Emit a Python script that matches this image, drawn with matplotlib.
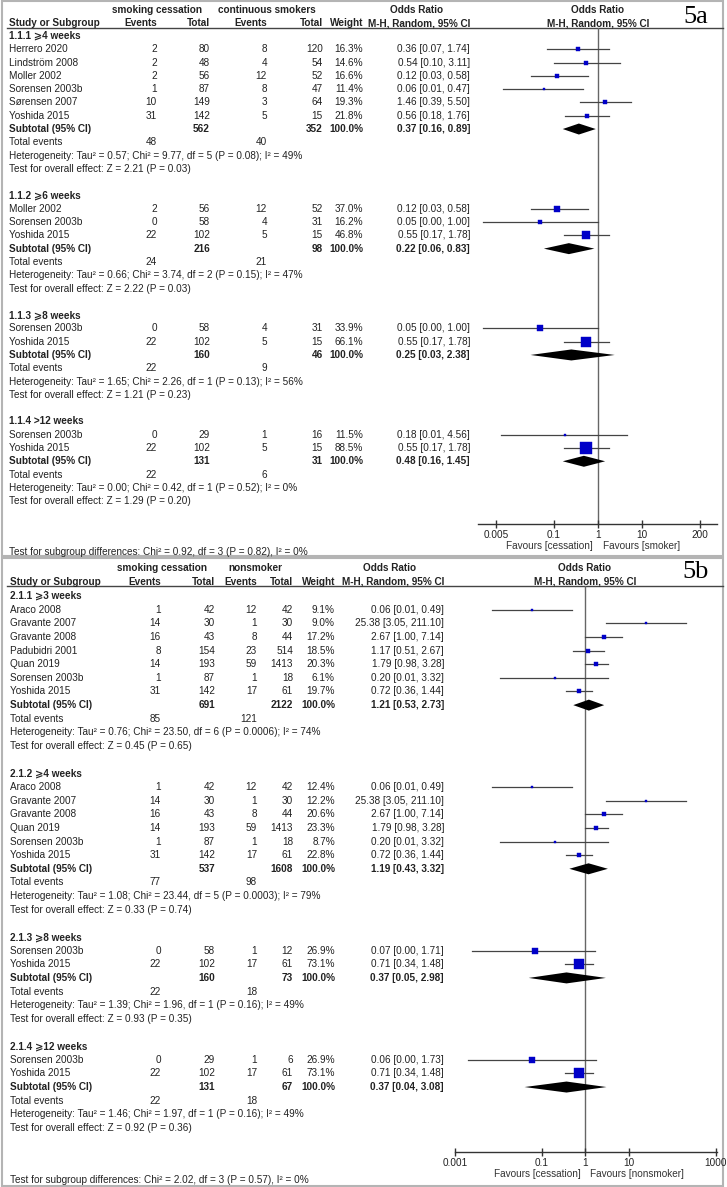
import matplotlib.pyplot as plt
from matplotlib.patches import Rectangle

plt.rcParams['font.family'] = ['Liberation Sans', 'DejaVu Sans']

# ---------------- 5a: smoking cessation vs continuous smokers ----------------
a_groups = ['1.1.1 ⩾4 weeks', '1.1.2 ⩾6 weeks', '1.1.3 ⩾8 weeks', '1.1.4 >12 weeks']
a_grp = [0, 0, 0, 0, 0, 0, 1, 1, 1, 2, 2, 3, 3]
a_study = ['Herrero 2020', 'Lindström 2008', 'Moller 2002', 'Sorensen 2003b', 'Sørensen 2007',
           'Yoshida 2015', 'Moller 2002', 'Sorensen 2003b', 'Yoshida 2015',
           'Sorensen 2003b', 'Yoshida 2015', 'Sorensen 2003b', 'Yoshida 2015']
a_ev1 = [2, 2, 2, 1, 10, 31, 2, 0, 22, 0, 22, 0, 22]
a_n1 = [80, 48, 56, 87, 149, 142, 56, 58, 102, 58, 102, 29, 102]
a_ev2 = [8, 4, 12, 8, 3, 5, 12, 4, 5, 4, 5, 1, 5]
a_n2 = [120, 54, 52, 47, 64, 15, 52, 31, 15, 31, 15, 16, 15]
a_wt = [16.3, 14.6, 16.6, 11.4, 19.3, 21.8, 37.0, 16.2, 46.8, 33.9, 66.1, 11.5, 88.5]
a_or = [0.36, 0.54, 0.12, 0.06, 1.46, 0.56, 0.12, 0.05, 0.55, 0.05, 0.55, 0.18, 0.55]
a_lo = [0.07, 0.10, 0.03, 0.007, 0.39, 0.18, 0.03, 0.0025, 0.17, 0.0025, 0.17, 0.0065, 0.17]
a_hi = [1.74, 3.11, 0.58, 0.47, 5.50, 1.76, 0.58, 1.00, 1.78, 1.00, 1.78, 4.56, 1.78]
a_sub_or = [0.37, 0.22, 0.25, 0.48]
a_sub_lo = [0.16, 0.06, 0.03, 0.16]
a_sub_hi = [0.89, 0.83, 2.38, 1.45]
a_het = ['Heterogeneity: Tau² = 0.57; Chi² = 9.77, df = 5 (P = 0.08); I² = 49%',
         'Heterogeneity: Tau² = 0.66; Chi² = 3.74, df = 2 (P = 0.15); I² = 47%',
         'Heterogeneity: Tau² = 1.65; Chi² = 2.26, df = 1 (P = 0.13); I² = 56%',
         'Heterogeneity: Tau² = 0.00; Chi² = 0.42, df = 1 (P = 0.52); I² = 0%']
a_eff = ['Test for overall effect: Z = 2.21 (P = 0.03)',
         'Test for overall effect: Z = 2.22 (P = 0.03)',
         'Test for overall effect: Z = 1.21 (P = 0.23)',
         'Test for overall effect: Z = 1.29 (P = 0.20)']
a_subdiff = 'Test for subgroup differences: Chi² = 0.92, df = 3 (P = 0.82), I² = 0%'
a_ticks = [0.005, 0.1, 1, 10, 200]
a_tick_labels = ['0.005', '0.1', '1', '10', '200']
a_fav = ['Favours [cessation]', 'Favours [smoker]']
a_arms = ['smoking cessation', 'continuous smokers']

# ---------------- 5b: smoking cessation vs nonsmokers ----------------
b_groups = ['2.1.1 ⩾3 weeks', '2.1.2 ⩾4 weeks', '2.1.3 ⩾8 weeks', '2.1.4 ⩾12 weeks']
b_grp = [0, 0, 0, 0, 0, 0, 0, 1, 1, 1, 1, 1, 1, 2, 2, 3, 3]
b_study = ['Araco 2008', 'Gravante 2007', 'Gravante 2008', 'Padubidri 2001', 'Quan 2019',
           'Sorensen 2003b', 'Yoshida 2015',
           'Araco 2008', 'Gravante 2007', 'Gravante 2008', 'Quan 2019', 'Sorensen 2003b', 'Yoshida 2015',
           'Sorensen 2003b', 'Yoshida 2015', 'Sorensen 2003b', 'Yoshida 2015']
b_ev1 = [1, 14, 16, 8, 14, 1, 31, 1, 14, 16, 14, 1, 31, 0, 22, 0, 22]
b_n1 = [42, 30, 43, 154, 193, 87, 142, 42, 30, 43, 193, 87, 142, 58, 102, 29, 102]
b_ev2 = [12, 1, 8, 23, 59, 1, 17, 12, 1, 8, 59, 1, 17, 1, 17, 1, 17]
b_n2 = [42, 30, 44, 514, 1413, 18, 61, 42, 30, 44, 1413, 18, 61, 12, 61, 6, 61]
b_wt = [9.1, 9.0, 17.2, 18.5, 20.3, 6.1, 19.7, 12.4, 12.2, 20.6, 23.3, 8.7, 22.8, 26.9, 73.1, 26.9, 73.1]
b_or = [0.06, 25.38, 2.67, 1.17, 1.79, 0.20, 0.72, 0.06, 25.38, 2.67, 1.79, 0.20, 0.72,
        0.07, 0.71, 0.06, 0.71]
b_lo = [0.0072, 3.05, 1.00, 0.51, 0.98, 0.011, 0.36, 0.0072, 3.05, 1.00, 0.98, 0.011, 0.36,
        0.0024, 0.34, 0.002, 0.34]
b_hi = [0.49, 211.10, 7.14, 2.67, 3.28, 3.32, 1.44, 0.49, 211.10, 7.14, 3.28, 3.32, 1.44,
        1.71, 1.48, 1.73, 1.48]
b_sub_or = [1.21, 1.19, 0.37, 0.37]
b_sub_lo = [0.53, 0.43, 0.05, 0.04]
b_sub_hi = [2.73, 3.32, 2.98, 3.08]
b_het = ['Heterogeneity: Tau² = 0.76; Chi² = 23.50, df = 6 (P = 0.0006); I² = 74%',
         'Heterogeneity: Tau² = 1.08; Chi² = 23.44, df = 5 (P = 0.0003); I² = 79%',
         'Heterogeneity: Tau² = 1.39; Chi² = 1.96, df = 1 (P = 0.16); I² = 49%',
         'Heterogeneity: Tau² = 1.46; Chi² = 1.97, df = 1 (P = 0.16); I² = 49%']
b_eff = ['Test for overall effect: Z = 0.45 (P = 0.65)',
         'Test for overall effect: Z = 0.33 (P = 0.74)',
         'Test for overall effect: Z = 0.93 (P = 0.35)',
         'Test for overall effect: Z = 0.92 (P = 0.36)']
b_subdiff = 'Test for subgroup differences: Chi² = 2.02, df = 3 (P = 0.57), I² = 0%'
b_ticks = [0.001, 0.1, 1, 10, 1000]
b_tick_labels = ['0.001', '0.1', '1', '10', '1000']
b_fav = ['Favours [cessation]', 'Favours [nonsmoker]']
b_arms = ['smoking cessation', 'nonsmoker']

W, H = 727, 1187
FS = 7.2
TXT = '#222222'
BLUE = '#0000c8'

fig = plt.figure(figsize=(W / 100, H / 100), dpi=100)


def px_axes(x0, y0, x1, y1):
    return fig.add_axes([x0 / W, 1 - y1 / H, (x1 - x0) / W, (y1 - y0) / H])


def draw_panel(lay, tag, arms, groups, grp, study, ev1, n1, ev2, n2, wt, orr, lo, hi,
               sub_or, sub_lo, sub_hi, het, eff, subdiff, ticks, tick_labels, fav):
    top, bot = lay['top'], lay['bottom']
    bg = px_axes(0, top, W, bot)
    bg.set_xlim(0, W)
    bg.set_ylim(bot, top)
    bg.axis('off')

    def t(x, y, s, ha='left', bold=False):
        bg.text(x, y, s, ha=ha, va='center', fontsize=FS, color=TXT,
                fontweight='bold' if bold else 'normal', clip_on=True)

    c_ev1, c_n1, c_ev2, c_n2, c_wt, c_or = lay['cols']
    # column headers
    t(lay['arm1'], lay['h1'], arms[0], 'center', True)
    t(lay['arm2'], lay['h1'], arms[1], 'center', True)
    t(lay['orc'], lay['h1'], 'Odds Ratio', 'center', True)
    t(lay['one'], lay['h1'], 'Odds Ratio', 'center', True)
    t(lay['x0'], lay['h2'], 'Study or Subgroup', 'left', True)
    for x, s in zip(lay['cols'], ['Events', 'Total', 'Events', 'Total', 'Weight',
                                  'M-H, Random, 95% CI']):
        t(x, lay['h2'], s, 'right', True)
    t(lay['one'], lay['h2'], 'M-H, Random, 95% CI', 'center', True)
    bg.plot([7, 723], [lay['line'], lay['line']], color='#444444', lw=1)
    bg.text(696, lay['tag_y'], tag, ha='center', va='center', fontsize=19,
            family='Liberation Serif', color='black')

    # forest plot column (log scale)
    x0p, x1p, one, pdec = lay['px0'], lay['px1'], lay['one'], lay['pdec']
    fa = px_axes(x0p, lay['line'], x1p, lay['axis'])
    fa.set_xscale('log')
    fa.set_xlim(10 ** ((x0p - one) / pdec), 10 ** ((x1p - one) / pdec))
    fa.set_ylim(lay['axis'], lay['line'])
    fa.patch.set_alpha(0)
    for s in ['top', 'left', 'right']:
        fa.spines[s].set_visible(False)
    fa.spines['bottom'].set_color('#333333')
    fa.spines['bottom'].set_linewidth(1)
    fa.set_yticks([])
    fa.minorticks_off()
    fa.set_xticks(ticks)
    fa.set_xticklabels(tick_labels)
    fa.tick_params(axis='x', which='major', direction='inout', length=6, width=1,
                   color='#333333', labelsize=FS, labelcolor=TXT, pad=1)
    fa.tick_params(axis='x', which='minor', length=0)
    fa.axvline(1, color='#666666', lw=1, zorder=1)
    fa.annotate(fav[0], xy=(1, 0), xycoords=('data', 'axes fraction'), xytext=(-3.5, -16),
                textcoords='offset points', ha='right', va='center', fontsize=FS, color='#333333')
    fa.annotate(fav[1], xy=(1, 0), xycoords=('data', 'axes fraction'), xytext=(3.5, -16),
                textcoords='offset points', ha='left', va='center', fontsize=FS, color='#333333')

    r = 0
    for g, name in enumerate(groups):
        y = lay['row0'] + r * lay['step']
        t(lay['x0'], y, name, 'left', True)
        idx = [i for i, k in enumerate(grp) if k == g]
        for i in idx:
            r += 1
            y = lay['row0'] + r * lay['step']
            t(lay['x0'], y, study[i])
            t(c_ev1, y, str(ev1[i]), 'right')
            t(c_n1, y, str(n1[i]), 'right')
            t(c_ev2, y, str(ev2[i]), 'right')
            t(c_n2, y, str(n2[i]), 'right')
            t(c_wt, y, f'{wt[i]:.1f}%', 'right')
            t(c_or, y, f'{orr[i]:.2f} [{lo[i]:.2f}, {hi[i]:.2f}]', 'right')
            fa.plot([lo[i], hi[i]], [y, y], color='#444444', lw=0.9, zorder=2)
            side = max(2.6, 0.44 * wt[i] ** 0.75) * 0.72
            fa.plot([orr[i]], [y], marker='s', ms=side, color=BLUE, mec=BLUE, mew=0.3,
                    ls='none', zorder=3)
        r += 1
        y = lay['row0'] + r * lay['step']
        t(lay['x0'], y, 'Subtotal (95% CI)', 'left', True)
        t(c_n1, y, str(sum(n1[i] for i in idx)), 'right', True)
        t(c_n2, y, str(sum(n2[i] for i in idx)), 'right', True)
        t(c_wt, y, '100.0%', 'right', True)
        t(c_or, y, f'{sub_or[g]:.2f} [{sub_lo[g]:.2f}, {sub_hi[g]:.2f}]', 'right', True)
        hh = 5.5
        fa.fill([sub_lo[g], sub_or[g], sub_hi[g], sub_or[g]], [y, y - hh, y, y + hh],
                color='black', lw=0, zorder=3)
        r += 1
        y = lay['row0'] + r * lay['step']
        t(lay['x0'], y, 'Total events')
        t(c_ev1, y, str(sum(ev1[i] for i in idx)), 'right')
        t(c_ev2, y, str(sum(ev2[i] for i in idx)), 'right')
        r += 1
        t(lay['x0'], lay['row0'] + r * lay['step'], het[g])
        r += 1
        t(lay['x0'], lay['row0'] + r * lay['step'], eff[g])
        r += 2

    t(lay['x0'], lay['subdiff'], subdiff)
    bg.add_patch(Rectangle((2, top + 1), 721, bot - top - 2, fill=False,
                           ec='#b4b4b4', lw=1.5, clip_on=False))


lay_a = dict(top=0, bottom=557, h1=10, h2=23, line=28, x0=9,
             cols=[157, 210, 267, 323, 363, 470], arm1=157, arm2=267, orc=417,
             px0=478, px1=717, one=598, pdec=44.3, axis=524,
             row0=36, step=13.29, tag_y=17, subdiff=552)
lay_b = dict(top=557, bottom=1187, h1=568, h2=582, line=586, x0=10,
             cols=[161, 215, 257, 293, 335, 444], arm1=162, arm2=255, orc=390,
             px0=455, px1=717, one=585, pdec=43.5, axis=1152,
             row0=596, step=13.64, tag_y=572, subdiff=1180)

draw_panel(lay_a, '5a', a_arms, a_groups, a_grp, a_study, a_ev1, a_n1, a_ev2, a_n2, a_wt,
           a_or, a_lo, a_hi, a_sub_or, a_sub_lo, a_sub_hi, a_het, a_eff, a_subdiff,
           a_ticks, a_tick_labels, a_fav)
draw_panel(lay_b, '5b', b_arms, b_groups, b_grp, b_study, b_ev1, b_n1, b_ev2, b_n2, b_wt,
           b_or, b_lo, b_hi, b_sub_or, b_sub_lo, b_sub_hi, b_het, b_eff, b_subdiff,
           b_ticks, b_tick_labels, b_fav)

fig.savefig('out.png', dpi=100)
